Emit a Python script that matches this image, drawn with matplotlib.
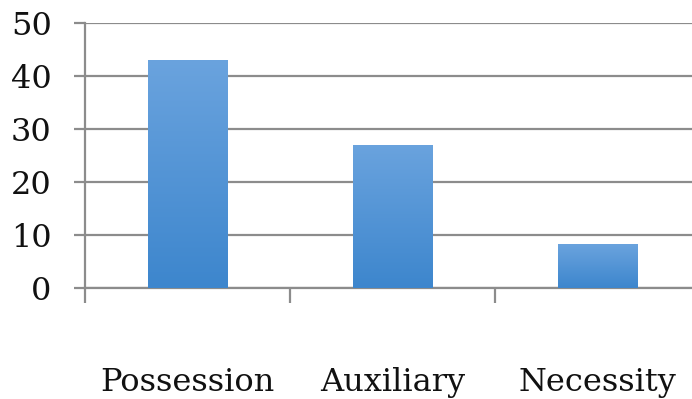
import matplotlib
matplotlib.use('Agg')
import matplotlib.pyplot as plt
import numpy as np
from matplotlib.colors import LinearSegmentedColormap

categories = ['Possession', 'Auxiliary', 'Necessity']
counts = [43, 27, 8.3]
yticks = [0, 10, 20, 30, 40, 50]

plt.rcParams['font.family'] = ['DejaVu Serif']

fig = plt.figure(figsize=(6.92, 3.99), dpi=100)
# axis runs off the right edge of the figure a little
ax = fig.add_axes([85 / 692, 111 / 399, 615 / 692, 265 / 399])

x = np.arange(len(categories))
bars = ax.bar(x, counts, width=0.39, color='#5596d6', zorder=3)

# vertical gradient inside every bar: lighter on top, darker at the bottom
cmap = LinearSegmentedColormap.from_list('barfill', ['#3d86cd', '#6aa3de'])
grad = np.linspace(0, 1, 256).reshape(-1, 1)
for b in bars:
    x0, y0 = b.get_x(), b.get_y()
    im = ax.imshow(grad, cmap=cmap, origin='lower', aspect='auto',
                   extent=(x0, x0 + b.get_width(), y0, y0 + b.get_height()),
                   zorder=4)
    im.set_clip_path(b)

ax.set_xlim(-0.5, 2.5)
ax.set_ylim(0, 50)
ax.set_yticks(yticks)
ax.set_xticks(x)
ax.set_xticklabels(categories)
ax.set_xticks([-0.5, 0.5, 1.5], minor=True)

gray = '#8c8c8c'
ax.yaxis.grid(True, color=gray, linewidth=1.6, zorder=1)
ax.set_axisbelow(True)
for side in ['top', 'right']:
    ax.spines[side].set_visible(False)
ax.spines['left'].set_color(gray)
ax.spines['bottom'].set_color(gray)
ax.spines['left'].set_linewidth(1.6)
ax.spines['bottom'].set_linewidth(1.6)

ax.tick_params(axis='y', length=8, width=1.6, color=gray, pad=16,
               labelsize=23, labelcolor='#111111')
ax.tick_params(axis='x', which='major', length=0, pad=57,
               labelsize=23, labelcolor='#111111')
ax.tick_params(axis='x', which='minor', length=11, width=1.6, color=gray)

fig.savefig('out.png', dpi=100)
